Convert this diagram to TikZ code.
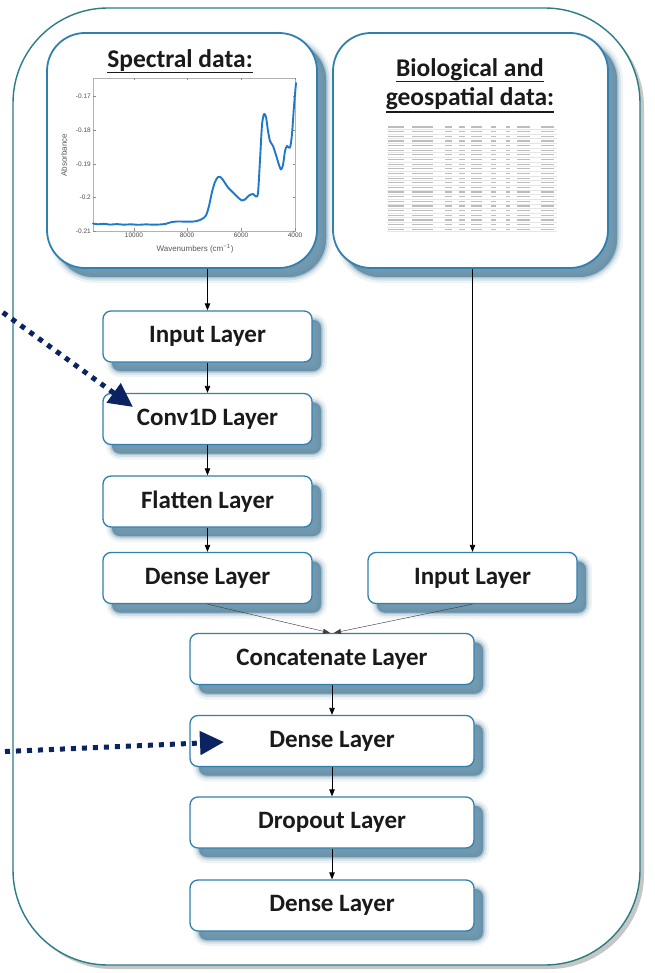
\documentclass[tikz,border=0pt]{standalone}
\usepackage{fontspec}
\setmainfont{Carlito}
\newfontfamily\plotfont{Liberation Sans}
\usetikzlibrary{arrows.meta}
\definecolor{teal0}{HTML}{2B7D84}
\definecolor{boxblue}{HTML}{2F80AE}
\definecolor{shadowblue}{HTML}{5F8CA6}
\definecolor{navy0}{HTML}{0B2461}
\definecolor{curveblue}{HTML}{1F78C8}
\definecolor{txt}{HTML}{1A1A1A}
\definecolor{tabgray}{HTML}{BDBDBD}
\definecolor{framegray}{HTML}{C6C6C6}
\tikzset{
  softshadow/.style={
    preaction={fill=shadowblue, draw=shadowblue, line width=12pt, opacity=0.10, transform canvas={xshift=9pt,yshift=-9pt}},
    preaction={fill=shadowblue, draw=shadowblue, line width=7pt, opacity=0.18, transform canvas={xshift=9pt,yshift=-9pt}},
    preaction={fill=shadowblue, draw=shadowblue, line width=3pt, opacity=0.35, transform canvas={xshift=9pt,yshift=-9pt}},
    preaction={fill=shadowblue, opacity=0.75, transform canvas={xshift=9pt,yshift=-9pt}}},
  layerbox/.style={softshadow, draw=boxblue, fill=white, line width=1.3pt, rounded corners=8pt,
    minimum height=51pt, inner sep=0pt, font=\fontsize{25}{28}\selectfont\bfseries, text=txt},
  databox/.style={softshadow, draw=boxblue, fill=white, line width=1.8pt, rounded corners=38pt,
    minimum width=#1, minimum height=235pt, inner sep=0pt},
  titletext/.style={font=\fontsize{25.5}{28}\selectfont\bfseries, text=txt, inner sep=0pt, anchor=base},
  container/.style={draw=teal0, fill=white, line width=1.4pt, rounded corners=95pt,
    minimum width=627pt, minimum height=957pt, inner sep=0pt,
    preaction={fill=framegray, transform canvas={xshift=4pt,yshift=-4pt}}},
  flow/.style={-{Triangle[length=7pt,width=5.5pt]}, line width=0.8pt, black},
  thinflow/.style={-{Triangle[length=7pt,width=5pt]}, line width=0.45pt, black!75},
  pointer/.style={navy0, line width=5pt, dash pattern=on 5pt off 6pt, -{Triangle[length=24pt,width=23pt]}},
  ticklab/.style={font=\plotfont\fontsize{6.5}{7}\selectfont, text=black!70, inner sep=1pt},
  axlab/.style={font=\plotfont\fontsize{8}{9}\selectfont, text=black!65, inner sep=0pt}
}
\begin{document}
\begin{tikzpicture}[x=1pt,y=-1pt]
\useasboundingbox (0,0) rectangle (654,973);
\fill[white] (0,0) rectangle (654,973);

% outer container
\node[container] (frame) at (326.5,486.5) {};

% data boxes
\node[databox=270pt] (spec) at (182,150.5) {};
\node[databox=275pt] (bio) at (470.5,150.5) {};

% titles
\node[titletext] (spectitle) at (180,68) {Spectral data:};
\draw[txt, line width=1.7pt] ([yshift=-4.5pt]spectitle.base west) -- ([yshift=-4.5pt]spectitle.base east);
\node[titletext] (biotitleA) at (470,77) {Biological and};
\draw[txt, line width=1.7pt] ([yshift=-4.5pt]biotitleA.base west) -- ([yshift=-4.5pt]biotitleA.base east);
\node[titletext] (biotitleB) at (470,106) {geospatial data:};
\draw[txt, line width=1.7pt] ([yshift=-6pt]biotitleB.base west) -- ([yshift=-6pt]biotitleB.base east);

% spectral plot
\draw[black!30, line width=0.5pt] (93,78) rectangle (295,231);
\foreach \xx/\lab in {134/10000, 187/8000, 241/6000, 295/4000}{
  \draw[black!45, line width=0.4pt] (\xx,231) -- (\xx,228.5);
  \draw[black!45, line width=0.4pt] (\xx,78) -- (\xx,80.5);
  \node[ticklab, anchor=north] (xt\lab) at (\xx,232) {\lab};
}
\foreach \yy/\lab in {96.4/-0.17, 130.1/-0.18, 163.8/-0.19, 197.5/-0.2, 231/-0.21}{
  \draw[black!45, line width=0.4pt] (93,\yy) -- (95.5,\yy);
  \draw[black!45, line width=0.4pt] (295,\yy) -- (292.5,\yy);
  \node[ticklab, anchor=east] at (92,\yy) {\lab};
}
\node[axlab, rotate=90] (ylab) at (64,155) {Absorbance};
\node[axlab] (xlab) at (195,249) {Wavenumbers (cm\textsuperscript{−1})};
\draw[curveblue, line width=1.9pt, line join=round, line cap=round]
  plot[smooth, tension=0.45] coordinates {
  (93,223.5) (98,224.3) (104,223.8) (110,224.6) (117,224.1) (124,224.7) (131,224.3) (138,224.8)
  (146,224.4) (154,224.7) (161,224.4) (166,223.8) (171,222.2) (177,221.5) (184,221.6) (191,221.7)
  (197,221) (202,219) (206,215.5) (209,206) (212,192) (215,182) (218,177) (221,177.5) (224,181.5)
  (228,187.5) (233,192.5) (238,197.5) (242,200.5) (245,199.5) (249,195.5) (253,194) (256,196.5)
  (258,193) (260,160) (262,125) (264,114) (266,117) (268,131) (270,141) (273,146) (276,155)
  (279,165) (281,169.5) (283,165) (285,151) (287,146) (290,147.5) (292,134) (294,106) (296,83)};

% table thumbnail
\foreach \r in {0,...,22}{
  \pgfmathsetmacro\yy{127+\r*4.65}
  \draw[black!10, line width=0.3pt] (387,\yy+2.3) -- (557,\yy+2.3);
  \foreach \a/\b in {388/404, 412/433, 445/452, 459/465, 471/482, 491/496, 506/510, 517/530, 541/554}
    \draw[tabgray, line width=1.2pt] (\a,\yy) -- (\b,\yy);
}

% layer boxes, left column
\node[layerbox, minimum width=209pt] (in1) at (207.5,336.5) {Input Layer};
\node[layerbox, minimum width=209pt] (conv) at (207.5,419) {Conv1D Layer};
\node[layerbox, minimum width=209pt] (flat) at (207.5,501.5) {Flatten Layer};
\node[layerbox, minimum width=209pt] (dense1) at (207.5,578) {Dense Layer};
% right column
\node[layerbox, minimum width=209pt] (in2) at (472.5,578) {Input Layer};
% merged column
\node[layerbox, minimum width=284pt] (concat) at (332,659) {Concatenate Layer};
\node[layerbox, minimum width=284pt] (dense2) at (332,741) {Dense Layer};
\node[layerbox, minimum width=284pt] (drop) at (332,822.5) {Dropout Layer};
\node[layerbox, minimum width=284pt] (dense3) at (332,905.5) {Dense Layer};

% connectors
\draw[flow] (spec.south -| in1.north) -- (in1.north);
\draw[flow] (in1) -- (conv);
\draw[flow] (conv) -- (flat);
\draw[flow] (flat) -- (dense1);
\draw[flow] (bio.south -| in2.north) -- (in2.north);
\draw[thinflow] (dense1.south) -- ([xshift=-2pt]concat.north);
\draw[thinflow] (in2.south) -- ([xshift=2pt]concat.north);
\draw[flow] (concat) -- (dense2);
\draw[flow] (dense2) -- (drop);
\draw[flow] (drop) -- (dense3);

% pointer arrows
\coordinate (p1s) at (-6,306);
\coordinate (p1e) at (133,407);
\coordinate (p2s) at (-6,752);
\coordinate (p2e) at (224,742);
\draw[pointer] (p1s) -- (p1e);
\draw[pointer] (p2s) -- (p2e);
\end{tikzpicture}
\end{document}
